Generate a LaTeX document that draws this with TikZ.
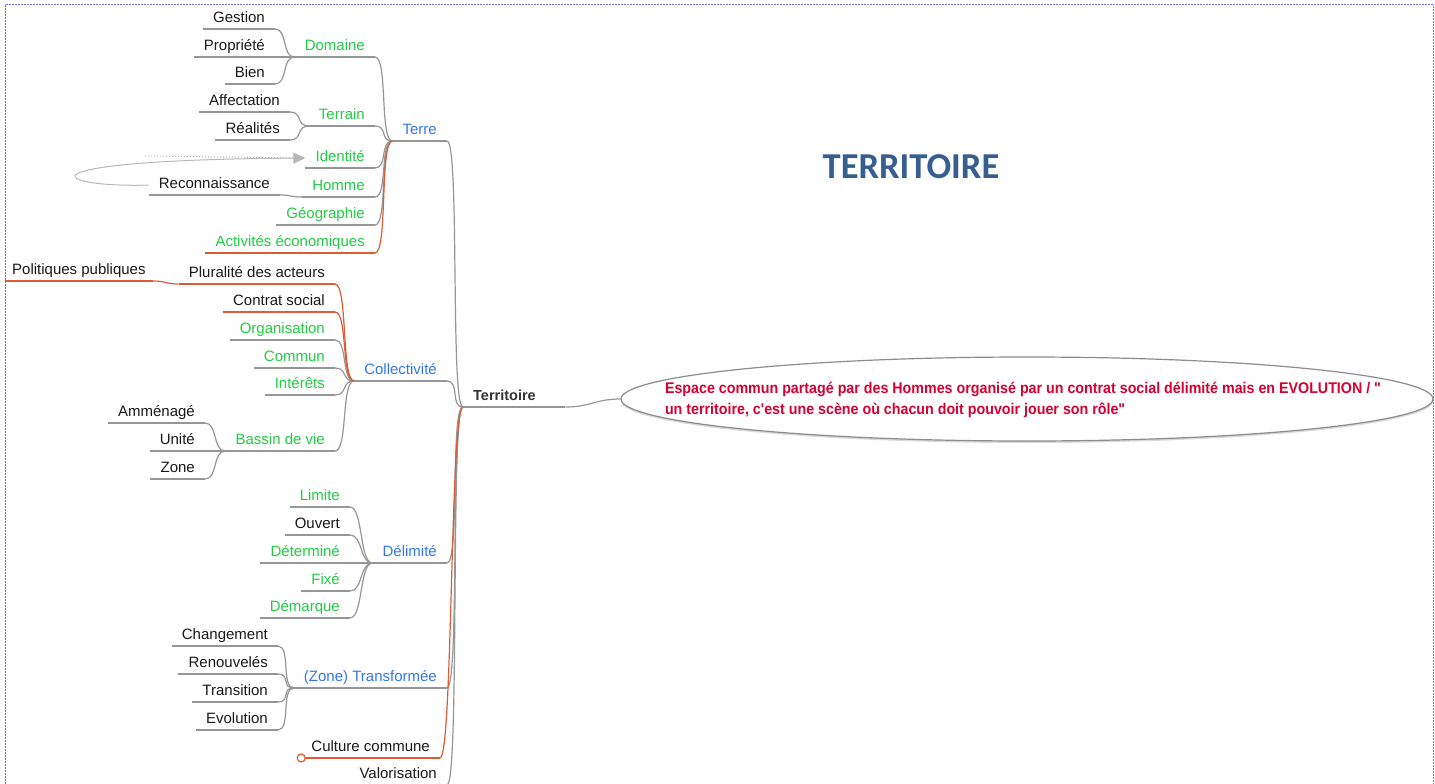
\documentclass[tikz,border=0pt]{standalone}
\usepackage{fontspec}
\setmainfont{Liberation Sans}
\newfontfamily\notefont[Ligatures=TeXOff,FakeStretch=0.92]{Liberation Sans}
\newfontfamily\titlefont{Carlito}
\usetikzlibrary{arrows.meta,positioning,shapes.geometric,shadows}

\definecolor{linkgray}{RGB}{150,150,150}
\definecolor{linkred}{RGB}{221,92,52}
\definecolor{topicblue}{RGB}{51,119,238}
\definecolor{topicgreen}{RGB}{34,204,68}
\definecolor{notered}{RGB}{215,0,50}
\definecolor{titleblue}{RGB}{54,95,145}
\definecolor{cadreblue}{RGB}{110,110,250}

\tikzstyle{topic}=[
	anchor=south east,
	inner xsep=10pt,
	inner ysep=2.5pt,
	text height=11pt,
	text depth=3.5pt,
	font=\fontsize{15}{18}\selectfont
]
\tikzstyle{major}=[topic, text=topicblue]
\tikzstyle{minor}=[topic, text=topicgreen]
\tikzstyle{leaf}=[topic, text=black!90]
\tikzstyle{root}=[
	topic,
	anchor=south west,
	text width=82pt,
	align=left,
	text=black!80,
	font=\fontsize{14.5}{18}\selectfont\bfseries
]
\tikzstyle{rule}=[draw=linkgray, line width=1.2pt]
\tikzstyle{hotrule}=[rule, draw=linkred]
\tikzset{
	connector/.style={rule, to path={.. controls +(#1,0) and +(-#1,0) .. (\tikztotarget)}},
	connector/.default=13,
	hotconnector/.style={connector=#1, draw=linkred},
	hotconnector/.default=13
}
\tikzstyle{relation}=[
	->,
	>={Triangle[length=12pt,width=11pt]},
	draw=black!28,
	line width=1pt
]
\tikzstyle{pointille}=[draw=black!30, dotted, line width=1pt, shorten >=10pt]
\tikzstyle{fold}=[circle, draw=linkred, fill=white, line width=1.2pt, minimum size=8pt, inner sep=0pt]
\tikzstyle{bulle}=[
	ellipse,
	draw=black!45,
	line width=1.2pt,
	fill=white,
	drop shadow={opacity=0.3, shadow xshift=0pt, shadow yshift=-2pt},
	minimum width=812pt,
	minimum height=84pt
]
\tikzstyle{notetext}=[align=left, inner sep=0pt, text=notered, font=\notefont\bfseries\fontsize{15.5}{21}\selectfont]
\tikzstyle{heading}=[text=titleblue, font=\titlefont\bfseries\fontsize{36.5}{40}\selectfont]
\tikzstyle{cadre}=[draw=cadreblue, dash pattern=on 2pt off 1pt, line width=1pt]

\begin{document}
\begin{tikzpicture}[x=1pt, y=-1pt]
\useasboundingbox (0,0) rectangle (1435,784);
\draw[cadre] (5,5) rectangle (1433,800);

% centre
\node[root] (territoire) at (463,407) {Territoire};
\node[bulle] (bulle) at (1027,399) {};
\node[notetext] (definition) at (1023,400) {Espace commun partagé par des Hommes organisé par un contrat social délimité mais en EVOLUTION / "\\un territoire, c'est une scène où chacun doit pouvoir jouer son rôle"};
\node[heading] (titre) at (911,167) {TERRITOIRE};

% first level
\node[major] (terre) at (447,141) {Terre};
\node[major] (collectivite) at (447,381) {Collectivité};
\node[major] (delimite) at (447,563) {Délimité};
\node[major] (transformee) at (447,688) {(Zone) Transformée};
\node[leaf] (culture) at (440,758) {Culture commune};
\node[leaf] (valorisation) at (447,785) {Valorisation};

% Terre
\node[minor] (domaine) at (375,57) {Domaine};
\node[minor] (terrain) at (375,126) {Terrain};
\node[minor] (identite) at (375,168) {Identité};
\node[minor] (homme) at (375,197) {Homme};
\node[minor] (geographie) at (375,225) {Géographie};
\node[minor] (activites) at (375,253) {Activités économiques};
\node[leaf] (gestion) at (275,29) {Gestion};
\node[leaf] (propriete) at (275,57) {Propriété};
\node[leaf] (bien) at (275,84) {Bien};
\node[leaf] (affectation) at (290,112) {Affectation};
\node[leaf] (realites) at (290,140) {Réalités};
\node[leaf] (reconnaissance) at (280,195) {Reconnaissance};

% Collectivite
\node[leaf] (pluralite) at (335,284) {Pluralité des acteurs};
\node[leaf, anchor=south west, inner xsep=7pt] (politiques) at (5,281) {Politiques publiques};
\node[leaf] (contrat) at (335,312) {Contrat social};
\node[minor] (organisation) at (335,340) {Organisation};
\node[minor] (commun) at (335,368) {Commun};
\node[minor] (interets) at (335,395) {Intérêts};
\node[minor] (bassin) at (335,451) {Bassin de vie};
\node[leaf] (amenage) at (205,423) {Amménagé};
\node[leaf] (unite) at (205,451) {Unité};
\node[leaf] (zone) at (205,479) {Zone};

% Delimite
\node[minor] (limite) at (350,507) {Limite};
\node[leaf] (ouvert) at (350,535) {Ouvert};
\node[minor] (determine) at (350,563) {Déterminé};
\node[minor] (fixe) at (350,591) {Fixé};
\node[minor] (demarque) at (350,618) {Démarque};

% Transformee
\node[leaf] (changement) at (278,646) {Changement};
\node[leaf] (renouveles) at (278,674) {Renouvelés};
\node[leaf] (transition) at (278,702) {Transition};
\node[leaf] (evolution) at (278,730) {Evolution};

% underlines
\foreach \n in {territoire, terre, collectivite, delimite, transformee, valorisation,
	domaine, terrain, identite, homme, geographie, gestion, propriete, bien,
	affectation, realites, reconnaissance, organisation, commun, interets, bassin,
	amenage, unite, zone, limite, ouvert, determine, fixe, demarque,
	changement, renouveles, transition, evolution}
	\draw[rule] (\n.south west) -- (\n.south east);
\foreach \n in {activites, pluralite, politiques, contrat, culture}
	\draw[hotrule] (\n.south west) -- (\n.south east);

% connectors
\foreach \a/\b in {terre/territoire, collectivite/territoire, delimite/territoire,
	transformee/territoire, valorisation/territoire,
	domaine/terre, terrain/terre, identite/terre, homme/terre, geographie/terre,
	gestion/domaine, propriete/domaine, bien/domaine,
	affectation/terrain, realites/terrain, reconnaissance/homme,
	organisation/collectivite, commun/collectivite, interets/collectivite, bassin/collectivite,
	amenage/bassin, unite/bassin, zone/bassin,
	limite/delimite, ouvert/delimite, determine/delimite, fixe/delimite, demarque/delimite,
	changement/transformee, renouveles/transformee, transition/transformee, evolution/transformee}
	\draw[connector] (\a.south east) to (\b.south west);
\draw[connector=25] (territoire.south east) to (bulle.west);
\foreach \a/\b in {activites/terre, pluralite/collectivite, contrat/collectivite,
	politiques/pluralite, culture/territoire}
	\draw[hotconnector] (\a.south east) to (\b.south west);
\node[fold] (repli) at (culture.south west) {};

% relation
\coordinate (boucle) at (145,156);
\draw[pointille] (boucle) -- (identite.west);
\draw[relation] (reconnaissance.west) .. controls (50,188) and (10,160) .. (identite.west);
\end{tikzpicture}
\end{document}
